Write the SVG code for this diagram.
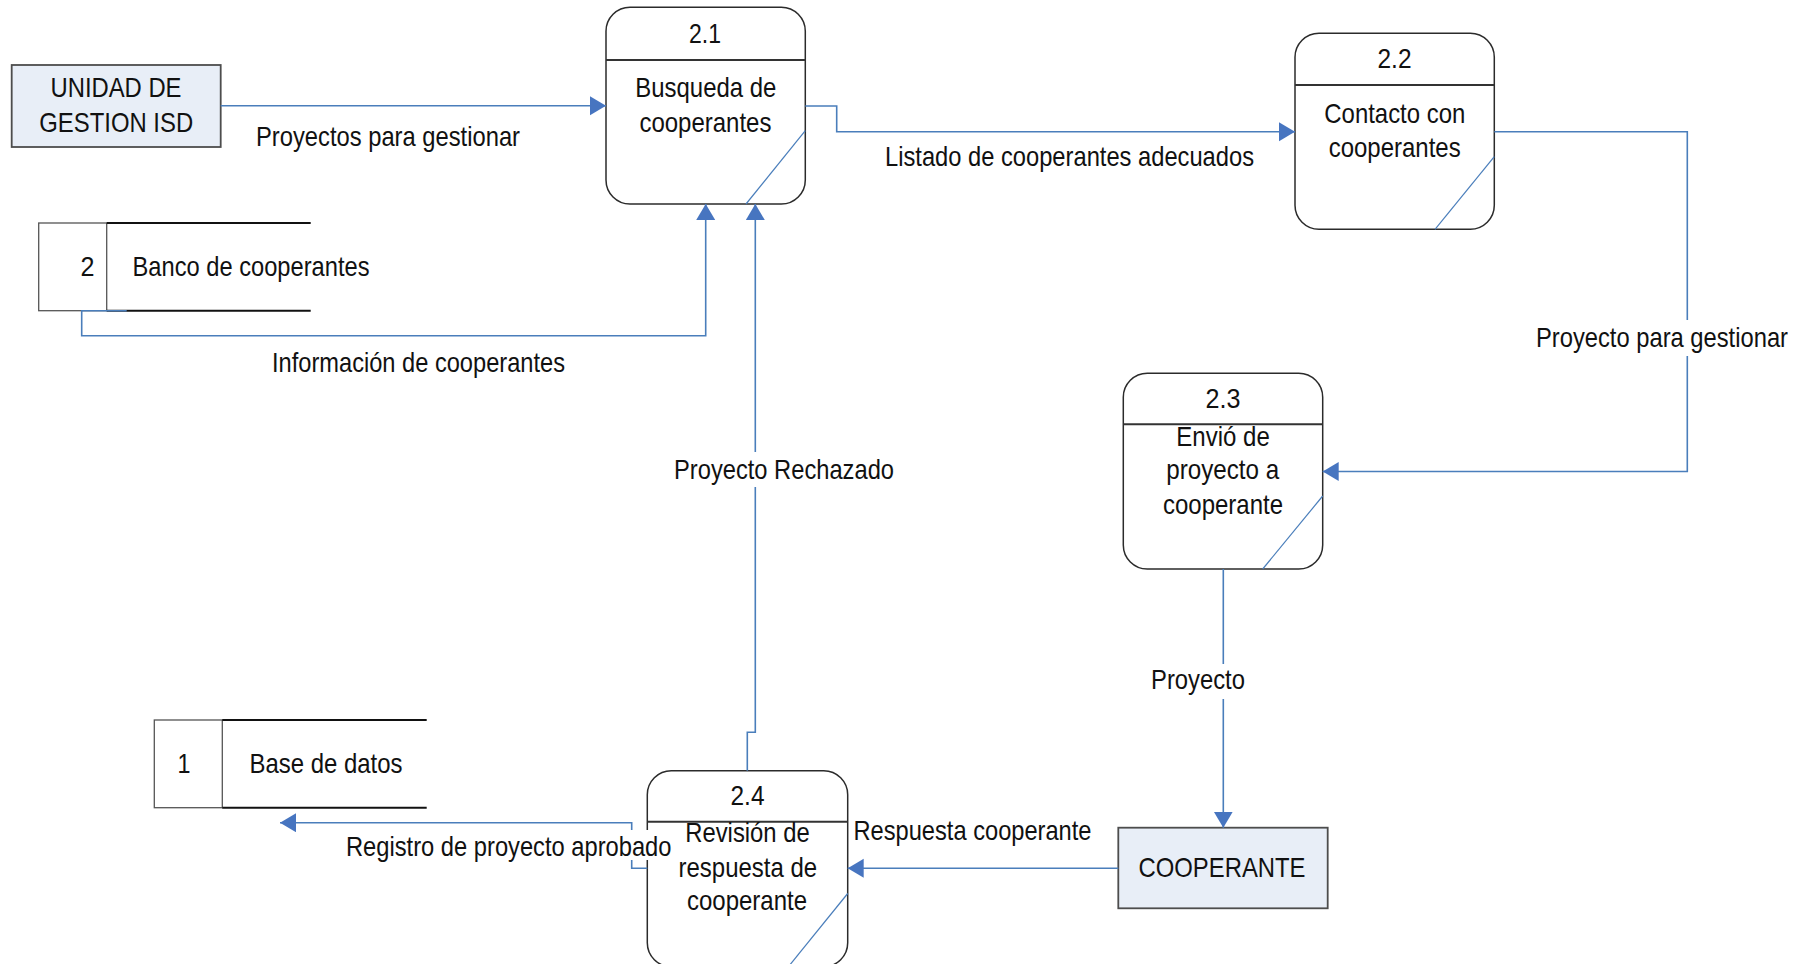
<svg xmlns="http://www.w3.org/2000/svg" width="1808" height="964" viewBox="0 0 1808 964">
  <style>
    text { font-family: "Liberation Sans Narrow", "Liberation Sans", Arial, sans-serif; font-size: 28.5px; fill: #111; }
    .mid { text-anchor: middle; }
    .entity { fill: #e8eef7; stroke: #4d4d4d; stroke-width: 1.8; }
    .proc { fill: #fff; stroke: #2b2b2b; stroke-width: 1.5; }
    .divider { stroke: #333; stroke-width: 2; }
    .corner { stroke: #4a7ebb; stroke-width: 1.2; fill: none; }
    .storeBox { fill: #fff; stroke: #555; stroke-width: 1.3; }
    .storeEdge { stroke: #111; stroke-width: 2; }
    .flow { fill: none; stroke: #4a7ebb; stroke-width: 1.6; }
    .lblbg { fill: #fff; }
  </style>
  <defs>
    <marker id="arrow" markerUnits="userSpaceOnUse" markerWidth="17" markerHeight="20" refX="16" refY="9.5" orient="auto">
      <path d="M0,0 L16,9.5 L0,19 z" fill="#4775c0"/>
    </marker>
  </defs>

  <!-- external entities -->
  <g id="unidad-gestion">
    <rect class="entity" x="11.7" y="65" width="209" height="82"/>
    <text class="mid" x="116" y="96.7" textLength="131" lengthAdjust="spacingAndGlyphs">UNIDAD DE</text>
    <text class="mid" x="116.2" y="131.7" textLength="154" lengthAdjust="spacingAndGlyphs">GESTION ISD</text>
  </g>

  <g id="cooperante">
    <rect class="entity" x="1118.3" y="827.7" width="209.4" height="80.6"/>
    <text class="mid" x="1222" y="877" textLength="167" lengthAdjust="spacingAndGlyphs">COOPERANTE</text>
  </g>

  <!-- data stores -->
  <g id="store-2">
    <rect class="storeBox" x="38.7" y="223" width="68" height="87.7"/>
    <line class="storeEdge" x1="106.7" y1="223" x2="310.7" y2="223"/>
    <line class="storeEdge" x1="106.7" y1="310.7" x2="310.7" y2="310.7"/>
    <text class="mid" x="87.5" y="275.7" textLength="14" lengthAdjust="spacingAndGlyphs">2</text>
    <text x="132.5" y="275.7" textLength="237" lengthAdjust="spacingAndGlyphs">Banco de cooperantes</text>
  </g>

  <g id="store-1">
    <rect class="storeBox" x="154.3" y="720" width="68" height="87.7"/>
    <line class="storeEdge" x1="222.3" y1="720" x2="426.7" y2="720"/>
    <line class="storeEdge" x1="222.3" y1="807.7" x2="426.7" y2="807.7"/>
    <text class="mid" x="184" y="772.7" textLength="13" lengthAdjust="spacingAndGlyphs">1</text>
    <text x="249.5" y="772.7" textLength="153" lengthAdjust="spacingAndGlyphs">Base de datos</text>
  </g>

  <!-- processes -->
  <g id="proc-2-1">
    <rect class="proc" x="606" y="7.3" width="199.3" height="196.7" rx="24" ry="24"/>
    <line class="divider" x1="606" y1="60" x2="805.3" y2="60"/>
    <line class="corner" x1="805.3" y1="130.7" x2="746" y2="204"/>
    <text class="mid" x="705" y="42.7" textLength="32" lengthAdjust="spacingAndGlyphs">2.1</text>
    <text class="mid" x="705.8" y="96.7" textLength="141" lengthAdjust="spacingAndGlyphs">Busqueda de</text>
    <text class="mid" x="705.4" y="131.7" textLength="132" lengthAdjust="spacingAndGlyphs">cooperantes</text>
  </g>

  <g id="proc-2-2">
    <rect class="proc" x="1295" y="33.3" width="199.3" height="196" rx="24" ry="24"/>
    <line class="divider" x1="1295" y1="85" x2="1494.3" y2="85"/>
    <line class="corner" x1="1494.3" y1="156.7" x2="1435" y2="229.3"/>
    <text class="mid" x="1394.5" y="68.3" textLength="34" lengthAdjust="spacingAndGlyphs">2.2</text>
    <text class="mid" x="1394.8" y="123.3" textLength="141" lengthAdjust="spacingAndGlyphs">Contacto con</text>
    <text class="mid" x="1394.7" y="156.7" textLength="132" lengthAdjust="spacingAndGlyphs">cooperantes</text>
  </g>

  <g id="proc-2-3">
    <rect class="proc" x="1123.3" y="373.3" width="199.4" height="195.7" rx="24" ry="24"/>
    <line class="divider" x1="1123.3" y1="424.3" x2="1322.7" y2="424.3"/>
    <line class="corner" x1="1322.7" y1="496" x2="1262.7" y2="569"/>
    <text class="mid" x="1223" y="407.7" textLength="35" lengthAdjust="spacingAndGlyphs">2.3</text>
    <text class="mid" x="1223" y="446" textLength="93.5" lengthAdjust="spacingAndGlyphs">Envió de</text>
    <text class="mid" x="1222.7" y="479" textLength="113" lengthAdjust="spacingAndGlyphs">proyecto a</text>
    <text class="mid" x="1223" y="514.3" textLength="120" lengthAdjust="spacingAndGlyphs">cooperante</text>
  </g>

  <g id="proc-2-4">
    <rect class="proc" x="647.3" y="770.7" width="200.4" height="196" rx="24" ry="24"/>
    <line class="divider" x1="647.3" y1="821.7" x2="847.7" y2="821.7"/>
    <line class="corner" x1="847.7" y1="893.5" x2="788.4" y2="966.7"/>
    <text class="mid" x="747.5" y="805" textLength="34" lengthAdjust="spacingAndGlyphs">2.4</text>
    <text class="mid" x="747.5" y="841.7" textLength="124.5" lengthAdjust="spacingAndGlyphs">Revisión de</text>
    <text class="mid" x="747.8" y="876.7" textLength="138.5" lengthAdjust="spacingAndGlyphs">respuesta de</text>
    <text class="mid" x="747" y="910" textLength="120" lengthAdjust="spacingAndGlyphs">cooperante</text>
  </g>

  <!-- data flows -->
  <g id="flows">
    <path class="flow" d="M220.7,105.7 H606" marker-end="url(#arrow)"/>
    <text x="256" y="145.7" textLength="264" lengthAdjust="spacingAndGlyphs">Proyectos para gestionar</text>

    <path class="flow" d="M805.3,106 H836.7 V131.7 H1295" marker-end="url(#arrow)"/>
    <text x="885" y="165.7" textLength="369" lengthAdjust="spacingAndGlyphs">Listado de cooperantes adecuados</text>

    <path class="flow" d="M126.7,310.7 H81.7 V335.7 H705.7 V204" marker-end="url(#arrow)"/>
    <text x="272" y="371.7" textLength="293" lengthAdjust="spacingAndGlyphs">Información de cooperantes</text>

    <path class="flow" d="M1494.3,131.7 H1687.3 V471.5 H1322.7" marker-end="url(#arrow)"/>
    <rect class="lblbg" x="1534" y="320" width="256" height="36"/>
    <text x="1536" y="346.7" textLength="252" lengthAdjust="spacingAndGlyphs">Proyecto para gestionar</text>

    <path class="flow" d="M747.3,770.7 V732.3 H755.3 V204" marker-end="url(#arrow)"/>
    <rect class="lblbg" x="672" y="452" width="224" height="35"/>
    <text x="674" y="479" textLength="220" lengthAdjust="spacingAndGlyphs">Proyecto Rechazado</text>

    <path class="flow" d="M1223.3,569 V827.7" marker-end="url(#arrow)"/>
    <rect class="lblbg" x="1149" y="664" width="98" height="35"/>
    <text x="1151" y="689.3" textLength="94" lengthAdjust="spacingAndGlyphs">Proyecto</text>

    <path class="flow" d="M1118.3,868.3 H847.7" marker-end="url(#arrow)"/>
    <text x="853.5" y="840" textLength="238" lengthAdjust="spacingAndGlyphs">Respuesta cooperante</text>

    <path class="flow" d="M647.3,868.3 H631.7 V822.7 H280" marker-end="url(#arrow)"/>
    <rect class="lblbg" x="345" y="830" width="327" height="30"/>
    <text x="346" y="855.5" textLength="325.5" lengthAdjust="spacingAndGlyphs">Registro de proyecto aprobado</text>
  </g>
</svg>
